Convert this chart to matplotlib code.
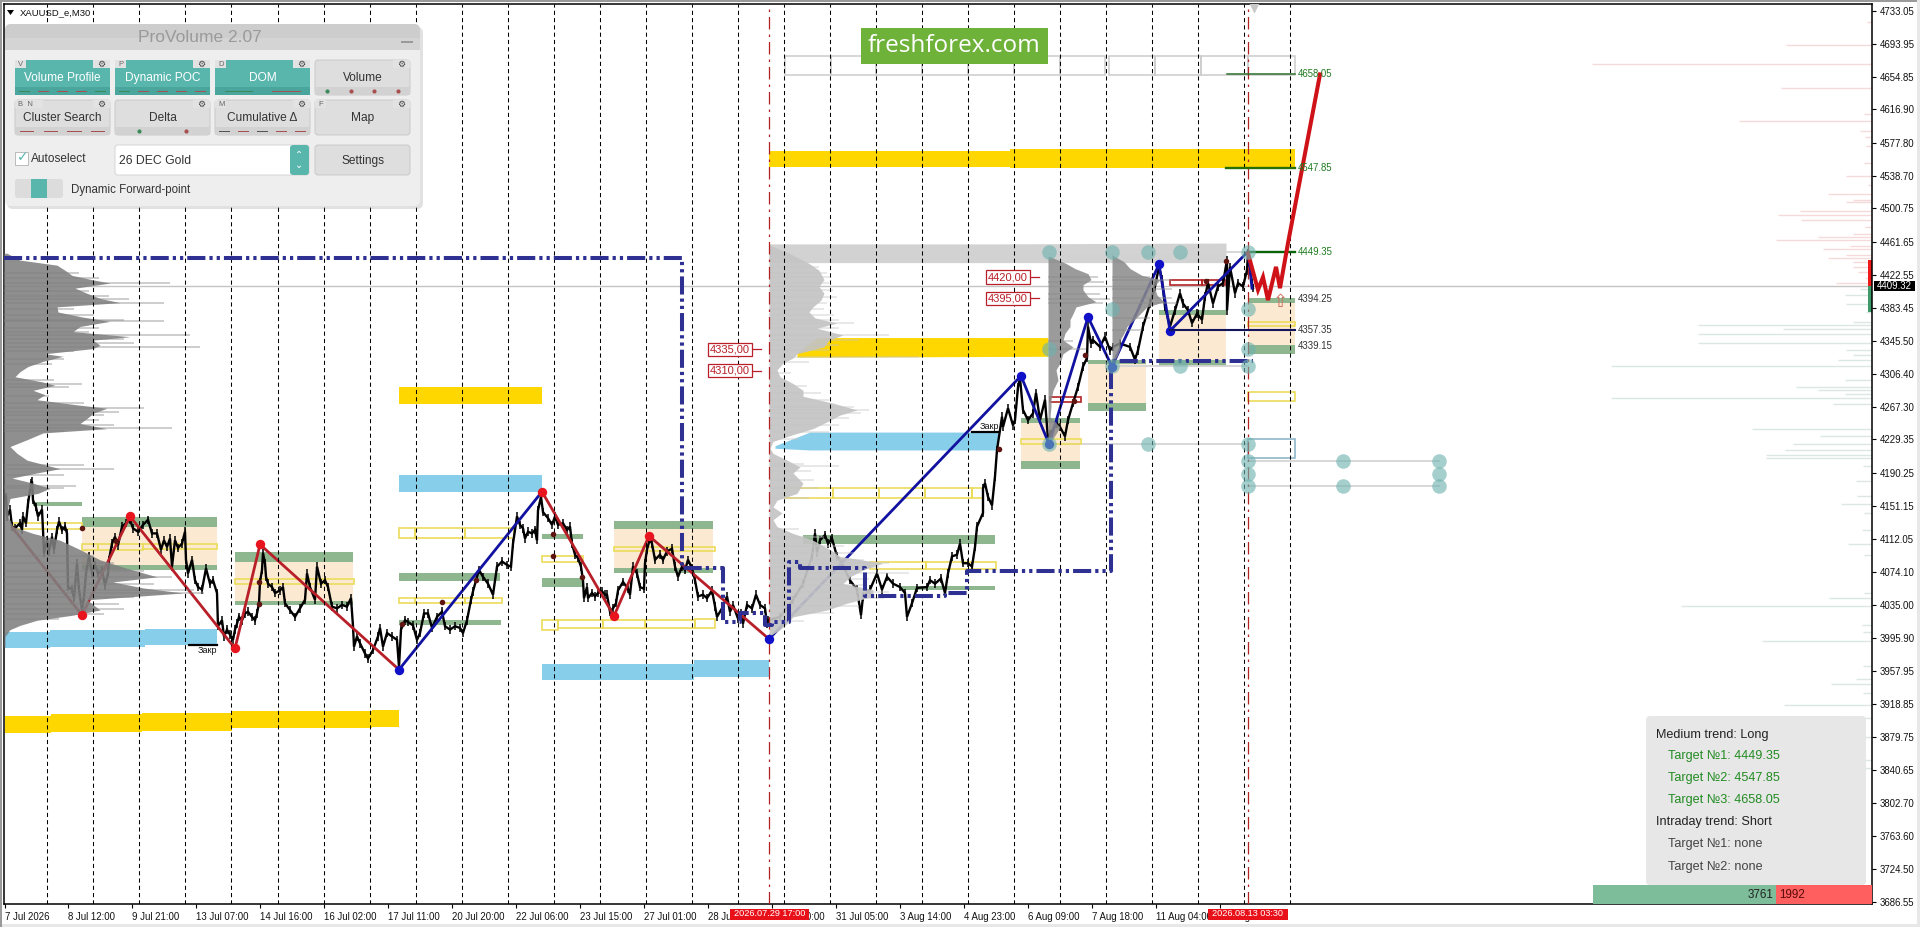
import matplotlib
matplotlib.use("Agg")
import matplotlib.pyplot as plt
from matplotlib.patches import Rectangle, FancyBboxPatch, Polygon

plt.rcParams['font.family'] = ['Liberation Sans', 'DejaVu Sans']

W, H = 1920, 927
# ---------- axis ----------
y_tick_values = [4733.05,4693.95,4654.85,4616.90,4577.80,4538.70,4500.75,4461.65,4422.55,4383.45,4345.50,4306.40,4267.30,4229.35,
                 4190.25,4151.15,4112.05,4074.10,4035.00,3995.90,3957.95,3918.85,3879.75,3840.65,3802.70,3763.60,3724.50,3686.55]
x_tick_pos = [5,68,132,196,260,324,388,452,516,580,644,708,772,836,900,964,1028,1092,1156,1220]
x_tick_labels = ['7 Jul 2026','8 Jul 12:00','9 Jul 21:00','13 Jul 07:00','14 Jul 16:00','16 Jul 02:00','17 Jul 11:00','20 Jul 20:00',
                 '22 Jul 06:00','23 Jul 15:00','27 Jul 01:00','28 Jul 11:00','29 Jul 20:00','31 Jul 05:00','3 Aug 14:00','4 Aug 23:00',
                 '6 Aug 09:00','7 Aug 18:00','11 Aug 04:00','12 Aug 13:00']
day_seps = [47.4+46.02*k for k in range(28)]
last_price = 4409.32

# ---------- price ----------
price_x = [6,7,10,12,15,20,22,23,26,28,31,32,33,36,38,42,43,44,47,49,52,54,57,59,62,65,67,68,72,74,77,79,82,84,86,89,92,95,98,102,105,108,109,112,115,118,122,126,130,133,138,143,148,152,157,161,164,167,170,172,175,178,182,185,186,188,192,195,198,202,206,210,213,217,218,222,224,227,230,233,235,237,239,
           242,245,248,252,255,257,259,260,262,263,265,266,268,272,275,280,283,285,290,295,300,305,307,310,315,317,321,325,328,332,337,342,347,351,353,354,357,360,365,368,373,378,380,383,387,392,397,399,401,405,408,413,417,420,424,428,432,437,442,445,450,455,460,463,467,471,473,477,479,483,488,493,497,502,507,511,513,517,520,
           523,525,528,532,535,537,538,541,543,548,552,555,558,563,567,570,572,575,578,581,583,584,587,588,592,595,598,602,605,607,610,613,616,618,623,628,630,633,637,640,644,645,647,650,652,655,660,663,667,672,675,678,682,685,688,692,695,698,703,707,712,715,717,722,727,730,733,738,741,743,747,752,756,760,765,767,768,
           780,793,803,812,815,817,820,825,828,832,837,842,850,857,861,863,870,877,882,887,893,900,905,907,912,917,927,930,935,941,945,948,952,957,960,963,968,972,975,977,983,983,985,988,992,995,997,1002,1003,1008,1013,1015,1018,1020,1023,1028,1033,1036,1040,1045,1048,
           1050,1057,1060,1065,1068,1073,1078,1083,1087,1088,1091,1093,1100,1105,1110,1113,1120,1130,1135,1138,1143,1150,1155,1159,1162,1165,1170,1175,1180,1183,1188,1192,1197,1202,1205,1208,1213,1218,1223,1227,1227,1230,1235,1238,1243,1247,1248,1252,1253]
price_y = [4162,4139,4147,4127,4125,4131,4123,4139,4131,4154,4178,4180,4158,4150,4139,4147,4123,4096,4111,4098,4115,4100,4123,4133,4123,4127,4119,4056,4053,4043,4084,4053,4029,4045,4072,4092,4072,4082,4072,4076,4058,4072,4088,4107,4115,4105,4127,4131,4135,4125,4121,4129,4135,4119,4119,4100,4111,4103,4113,4080,4111,4102,4107,4121,4088,4072,4088,4064,4056,4053,4078,4060,4064,4049,4010,4017,3998,4006,4000,3994,4006,4013,4021,
           4017,4025,4027,4021,4017,4025,4037,4062,4076,4096,4084,4068,4060,4056,4049,4052,4056,4037,4029,4021,4031,4041,4072,4056,4041,4080,4060,4064,4056,4033,4031,4035,4033,4043,4010,3986,3998,3990,3978,3972,3982,3998,4008,3986,4002,3998,3994,3962,4006,4017,4015,4011,3994,4002,4025,4025,4008,4021,4027,4010,4006,4010,4008,4002,4017,4041,4051,4068,4076,4068,4060,4047,4080,4086,4082,4080,4107,4139,4129,
           4125,4113,4121,4119,4123,4111,4146,4162,4144,4137,4129,4139,4129,4131,4123,4127,4107,4094,4090,4080,4064,4043,4056,4043,4049,4045,4049,4051,4047,4047,4027,4031,4037,4052,4062,4054,4047,4080,4072,4056,4054,4084,4100,4113,4107,4088,4094,4088,4098,4101,4080,4068,4080,4076,4088,4078,4064,4045,4047,4043,4052,4033,4021,4031,4045,4027,4035,4019,4025,4013,4035,4031,4047,4035,4031,4013,4017,
           4021,4041,4060,4092,4119,4096,4111,4117,4107,4113,4092,4084,4064,4053,4023,4045,4053,4072,4053,4068,4060,4056,4049,4021,4037,4055,4056,4064,4060,4066,4049,4072,4092,4094,4107,4084,4084,4080,4103,4127,4143,4172,4178,4162,4152,4186,4217,4256,4244,4266,4246,4252,4291,4301,4264,4252,4260,4284,4252,4276,4229,
           4236,4248,4244,4233,4252,4272,4291,4315,4325,4362,4342,4346,4338,4350,4334,4338,4342,4338,4323,4334,4362,4389,4409,4432,4417,4385,4362,4381,4401,4389,4381,4366,4377,4370,4397,4413,4389,4409,4413,4440,4381,4432,4401,4413,4409,4428,4448,4413,4407]

# ---------- zigzag waves ----------
red_wave_x = [13,82,130,235,260,399]
red_wave_y = [4125,4023,4139,3984,4106,3959]
blue_wave1_x = [399,542]
blue_wave1_y = [3959,4168]
red_wave2_x = [542,614,649,769]
red_wave2_y = [4168,4022,4116,3995]
blue_wave2_x = [769,1021,1049,1088,1112,1159,1170,1248,1252]
blue_wave2_y = [3995,4304,4224,4373,4315,4435,4357,4450,4407]
red_pivots_x = [82,130,235,260,542,614,649]
red_pivots_y = [4023,4139,3984,4106,4168,4022,4116]
blue_pivots_x = [399,769,1021,1049,1088,1112,1159,1170]
blue_pivots_y = [3959,3995,4304,4224,4373,4315,4435,4357]
forecast_x = [1248,1258,1263,1268,1276,1280,1288,1320]
forecast_y = [4448,4405,4420,4393,4432,4407,4460,4658]
poc_x = [4,682,682,723,723,740,740,765,765,772,772,789,789,800,800,865,865,945,945,967,967,1111,1111,1253]
poc_y = [4442,4442,4078,4078,4015,4015,4026,4026,4011,4011,4015,4015,4086,4086,4078,4078,4045,4045,4049,4049,4075,4075,4322,4322]
dark_dots_x = [999,1085,1074,259,259,442,402,476,553,553,582,1226,1206,82,116]
dark_dots_y = [4218,4328,4275,4062,4036,4039,4013,4064,4118,4092,4068,4439,4415,4125,4110]

# ---------- volume profiles: price levels, widths ----------
vp1_p = [4448,4440,4434,4428,4422,4417,4413,4407,4401,4395,4390,4385,4379,4373,4368,4362,4356,4350,4346,4340,4336,4330,4327,4321,4315,4309,4303,4297,4293,4287,4282,4276,4270,4266,4260,4254,4248,4242,4237,4229,4221,4213,4205,4195,4190,4184,4178,4172,4166,4160,4150,4139,4127,4119,4111,4100,4088,4078,4068,4062,4055,4049,4041,4029,4023,4017,4011,4006,3998,3986]
vp1_v = [3,16,53,61,68,88,106,71,83,96,116,53,54,79,106,76,69,126,89,96,89,41,59,39,24,16,11,38,51,29,41,33,73,103,89,83,76,103,39,23,6,13,23,56,33,8,29,46,34,6,4,4,9,29,56,76,96,123,153,109,139,179,83,96,69,33,16,6,1,1]
vp1_spike_p = [4425,4419,4413,4404,4398,4394,4390,4382,4376,4370,4368,4360,4355,4352,4347,4343,4338,4333,4324,4318,4299,4294,4291,4280,4272,4266,4262,4258,4252,4246,4243,4239,4199,4195,4188,4175,4172,4092,4084,4075,4068,4060,4053,4049,4044,4036,4030,4024,4018]
vp1_spike_v = [75,95,166,85,105,125,160,70,90,120,160,95,85,186,120,130,196,70,60,48,50,78,65,45,80,140,115,100,95,110,168,60,80,110,60,72,60,90,110,140,168,150,190,200,130,115,120,100,55]
vp2_p = [4458,4448,4436,4428,4417,4409,4401,4393,4385,4379,4372,4366,4360,4352,4346,4338,4330,4325,4319,4311,4303,4295,4287,4280,4272,4264,4258,4250,4242,4235,4227,4219,4213,4205,4197,4190,4178,4166,4158,4150,4143,4135,4127,4119,4111,4100,4092,4084,4076,4068,4060,4053,4045,4037,4029,4021,4013,4006,3998]
vp2_v = [0,20,40,50,55,50,55,52,44,40,46,68,48,74,60,55,28,24,14,8,11,24,34,34,64,88,71,58,44,24,4,1,4,18,31,24,34,28,8,4,13,4,8,24,44,61,71,114,94,81,74,104,104,78,58,24,18,11,0]
vp2_spike_p = [4432,4425,4420,4413,4405,4397,4390,4382,4375,4370,4366,4360,4352,4346,4340,4334,4326,4320,4307,4292,4284,4276,4268,4264,4260,4254,4246,4238,4230,4201,4198,4192,4182,4172,4161,4124,4115,4104,4096,4088,4084,4080,4073,4066,4058,4050,4043,4034,4026,4016]
vp2_spike_v = [50,58,62,60,64,68,58,55,65,70,85,70,120,90,70,60,150,40,22,38,52,60,85,100,92,80,70,60,30,35,70,42,45,50,40,30,55,75,85,95,120,110,140,100,95,120,115,90,65,35]
vp3_p = [4444,4436,4430,4424,4417,4411,4405,4397,4391,4385,4377,4370,4362,4354,4346,4338,4330,4319,4311,4299,4287,4276,4268,4256,4244,4236,4225]
vp3_v = [2,18,27,40,43,35,35,40,48,28,25,22,22,17,15,25,15,12,8,10,5,3,3,2,12,8,2]
vp3_spike_p = [4420,4414,4400,4394,4389,4345,4335]
vp3_spike_v = [50,56,52,62,55,25,38]
vp4_p = [4446,4438,4430,4422,4417,4409,4399,4391,4385,4373,4362,4354,4346,4336,4327,4317]
vp4_v = [0,12,18,30,48,42,45,52,35,25,15,12,8,8,5,0]
vp4_spike_p = [4420,4416,4406,4396,4390,4372,4358]
vp4_spike_v = [38,60,60,60,65,38,30]

# ---------- zones: (start, end, low, high) ----------
gold_bands = [(5,51,3885,3905),(51,142,3886,3907),(142,232,3887,3908),(232,325,3890,3910),(325,372,3891,3911),(372,399,3892,3912),
              (769,1010,4549,4568),(1010,1295,4548,4570),(399,542,4271,4291)]
gold_taper_x = [797,817,1048]
gold_taper_hi = [4331,4349,4349]
gold_taper_lo = [4326,4326,4327]
blue_bands = [(5,50,3985,4003),(50,145,3986,4005),(145,217,3988,4007),(399,542,4168,4188),(542,694,3947,3966),(694,769,3950,3970)]
blue_taper_x = [775,810,998]
blue_taper_hi = [4222,4238,4238]
blue_taper_lo = [4219,4217,4217]
green_bands = [(33,82,4151,4156),(82,217,4126,4138),(82,217,4076,4082),(235,353,4086,4097),(235,353,4035,4040),(399,500,4063,4073),(399,501,4011,4017),
               (542,583,4113,4118),(542,583,4056,4067),(614,713,4124,4134),(614,713,4073,4078),(803,995,4107,4117),(900,995,4052,4057),
               (1021,1080,4249,4254),(1021,1080,4195,4204),(1088,1146,4318,4323),(1088,1146,4263,4272),(1159,1226,4376,4381),(1159,1226,4316,4323),
               (1248,1295,4390,4395),(1248,1295,4330,4340)]
beige_bands = [(82,217,4082,4126),(235,353,4040,4086),(614,713,4078,4124),(1021,1080,4204,4249),(1088,1146,4272,4318),(1159,1226,4323,4376),(1248,1295,4340,4390)]
grey_band_x = [769,1000,1226]
grey_band_lo = [4437,4437,4437]
grey_band_hi = [4459,4459,4460]
yellow_boxes = [(13,82,4124,4131),(82,98,4100,4107),(98,143,4100,4107),(143,217,4101,4107),(235,354,4060,4066),(399,415,4114,4125),(415,465,4114,4125),(465,514,4114,4125),
                (399,415,4037,4043),(415,465,4037,4043),(465,502,4037,4043),(542,583,4086,4092),(542,558,4006,4017),(558,603,4008,4017),(603,645,4008,4017),(645,695,4008,4017),(695,715,4008,4019),
                (614,715,4098,4103),(785,833,4161,4172),(833,879,4161,4172),(879,925,4161,4172),(925,972,4161,4172),(972,983,4161,4172),
                (870,926,4077,4085),(926,996,4077,4085),(1021,1081,4224,4230),(1248,1295,4362,4367),(1248,1295,4274,4285)]
red_boxes = [(1050,1081,4273,4279),(1170,1202,4411,4417),(1202,1225,4411,4417)]
paleblue_boxes = [(1248,1295,4207,4230)]
grey_boxes = [(785,831),(831,876),(876,922),(922,968),(968,1014),(1014,1060),(1060,1105),(1109,1155),(1155,1201),(1201,1248),(1248,1295)]
grey_box_low, grey_box_high = 4657, 4680

# ---------- levels ----------
guide_lines = [(1049,1248,4450),(1112,1248,4316),(1049,1248,4224),(1248,1439,4204),(1248,1439,4175)]
circles_x = [1049,1112,1148,1180,1248,1112,1248,1049,1248,1112,1180,1248,1049,1148,1248,1248,1343,1439,1248,1439,1248,1343,1439]
circles_y = [4450,4450,4450,4450,4450,4382,4382,4336,4336,4316,4316,4316,4224,4224,4224,4204,4204,4204,4189,4189,4175,4175,4175]
target_labels = [(4658.05,'4658.05','#1f7a1f'),(4547.85,'4547.85','#1f7a1f'),(4449.35,'4449.35','#1f7a1f'),(4394.25,'4394.25','#333333'),(4357.35,'4357.35','#333333'),(4339.15,'4339.15','#333333')]
order_labels = [(1008,4420,'4420,00',1039),(1008,4395,'4395,00',1039),(730,4335,'4335,00',761),(730,4310,'4310,00',761)]

# ---------- order book depth ----------
dom_red_p = [4719,4693,4670,4642,4612,4603,4592,4584,4574,4554,4539,4528,4518,4511,4508,4498,4493,4487,4479,4471,4467,4463,4457,4453,4446,4442,4438,4432,4426,4419,4413]
dom_red_v = [5,86,280,91,8,133,12,7,6,8,26,4,44,19,26,72,94,71,7,19,54,96,22,49,26,44,19,19,14,7,36]
dom_grn_p = [4406,4399,4388,4379,4367,4364,4359,4353,4343,4334,4329,4323,4316,4299,4291,4287,4283,4278,4271,4242,4233,4224,4217,4211,4207,4198,4181,4163,4154,4143,4123,4107,4094,4049,4043,4034,4012,4003,3993,3963,3948,3942,3931,3917,3902,3880,3853,3843,3693]
dom_grn_v = [12,27,26,6,19,174,89,174,174,26,19,34,261,27,76,54,27,261,39,120,52,79,87,106,106,9,16,15,31,8,10,24,8,8,43,191,10,9,110,9,16,41,9,88,32,21,17,173,176]

# ---------- info panel ----------
info_lines = [('Medium trend: Long','#222222',0),('Target №1: 4449.35','#228b22',1),('Target №2: 4547.85','#228b22',1),('Target №3: 4658.05','#228b22',1),
              ('Intraday trend: Short','#222222',0),('Target №1: none','#444444',1),('Target №2: none','#444444',1)]
buy_total, sell_total = 3761, 1992

# ======================== draw ========================
fig = plt.figure(figsize=(W/100, H/100), dpi=100, facecolor='white')
ax = fig.add_axes([4/W, 1-904/H, 1868/W, 900/H])
ax.set_xlim(4, 1872)
ax.set_ylim(3683.8, 4740.7)
ax.set_facecolor('white')
for s in ax.spines.values():
    s.set_color('black'); s.set_linewidth(1.1)
ax.yaxis.tick_right()
ax.set_yticks(y_tick_values)
ax.set_yticklabels([f'{v:.2f}' for v in y_tick_values], fontsize=6.9, color='#111111')
ax.set_xticks(x_tick_pos)
ax.set_xticklabels(x_tick_labels, fontsize=6.9, ha='left', color='#111111')
ax.tick_params(axis='both', length=3, width=0.8, pad=2.5)
ax.tick_params(axis='x', pad=3)

def spans(items, color, z=1):
    for x0, x1, lo, hi in items:
        ax.add_patch(Rectangle((x0, lo), x1-x0, hi-lo, fc=color, ec='none', zorder=z))
def boxes(items, color, lw=1.2):
    for x0, x1, lo, hi in items:
        ax.add_patch(Rectangle((x0, lo), x1-x0, hi-lo, fc='none', ec=color, lw=lw, zorder=2.2))

ax.fill_between(grey_band_x, grey_band_lo, grey_band_hi, color='#d2d2d2', lw=0, zorder=1)
spans(beige_bands, '#fce9d2', 1)
spans(gold_bands, '#ffd700', 1.1)
ax.fill_between(gold_taper_x, gold_taper_lo, gold_taper_hi, color='#ffd700', lw=0, zorder=1.1)
spans(blue_bands, '#87ceeb', 1.1)
ax.fill_between(blue_taper_x, blue_taper_lo, blue_taper_hi, color='#87ceeb', lw=0, zorder=1.1)
spans(green_bands, '#8fb78f', 1.2)
boxes(yellow_boxes, '#ecdc5a')
boxes(red_boxes, '#b22222')
boxes(paleblue_boxes, '#8fb8c8')
for x0, x1 in grey_boxes:
    ax.add_patch(Rectangle((x0, grey_box_low), x1-x0, grey_box_high-grey_box_low, fc='none', ec='#cccccc', lw=1.1, zorder=2.2))

ax.axhline(last_price, color='#c4c4c4', lw=1.0, zorder=1.6)
for x0, x1, p in guide_lines:
    ax.plot([x0, x1], [p, p], color='#d4d4d4', lw=1.3, zorder=1.7)

# bars' range around each reading thickens the line the way the M30 bars do
ax.vlines(price_x, [p-5 for p in price_y], [p+5 for p in price_y], color='black', lw=1.1, zorder=3)
ax.plot(price_x, price_y, color='black', lw=1.7, zorder=3, solid_joinstyle='miter')

wave_col = '#b81f28'
for xs, ys, c in [(red_wave_x, red_wave_y, wave_col), (red_wave2_x, red_wave2_y, wave_col),
                  (blue_wave1_x, blue_wave1_y, '#1212a0'), (blue_wave2_x, blue_wave2_y, '#1212a0')]:
    ax.plot(xs, ys, color=c, lw=2.0, zorder=3.2)

# profiles
def profile(levels, vols, base, col, alpha, sp, spv):
    ax.fill_betweenx(levels, base, [base+v for v in vols], color=col, alpha=alpha, lw=0, zorder=3.5)
    ax.hlines(sp, base, [base+v for v in spv], color=col, alpha=0.5, lw=1.1, zorder=3.4)
profile(vp1_p, vp1_v, 4, '#808080', 0.88, vp1_spike_p, vp1_spike_v)
profile(vp2_p, vp2_v, 769, '#c4c4c4', 0.92, vp2_spike_p, vp2_spike_v)
profile(vp3_p, vp3_v, 1048, '#8a8a8a', 0.85, vp3_spike_p, vp3_spike_v)
profile(vp4_p, vp4_v, 1112, '#8a8a8a', 0.85, vp4_spike_p, vp4_spike_v)

ax.vlines(day_seps, 3683.8, 4740.7, color='black', lw=0.75, linestyles=(0, (4, 3)), zorder=4)
for xv in (769, 1248):
    ax.axvline(xv, color='#b22222', lw=0.9, linestyle=(0, (10, 4, 2, 4)), zorder=4)

ax.plot(poc_x, poc_y, color='#2e3192', lw=2.9, linestyle=(0, (4.5, 1, 0.8, 1, 0.8, 1)), dash_capstyle='butt', zorder=5)
ax.scatter(dark_dots_x, dark_dots_y, s=16, color='#5e1410', zorder=4.5, lw=0)
ax.scatter(red_pivots_x, red_pivots_y, s=46, color='#e8141e', zorder=5.2, lw=0)
ax.scatter(blue_pivots_x, blue_pivots_y, s=46, color='#1010c8', zorder=5.2, lw=0)
ax.plot(forecast_x, forecast_y, color='#cf1218', lw=2.9, zorder=5.5, solid_joinstyle='miter')
ax.scatter(circles_x, circles_y, s=110, color='#6fb2ae', alpha=0.62, lw=0, zorder=5.6)
ax.scatter([1254], [4736], marker='v', s=55, color='#c8c8c8', lw=0, zorder=5, clip_on=True)
ax.text(1280, 4391, '⇧', family='DejaVu Sans', fontsize=13, color='#cc6a5a', ha='center', va='center', zorder=6)

# target lines
ax.plot([1248, 1295], [4449.35]*2, color='#0a640a', lw=1.7, zorder=5.4)
ax.plot([1226, 1295], [4547.85]*2, color='#2a6e06', lw=1.7, zorder=5.4)
ax.plot([1227, 1295], [4658.05]*2, color='#2a6e2a', lw=1.1, zorder=5.4)
ax.plot([1170, 1295], [4357.35]*2, color='#14145a', lw=1.5, zorder=5.4)
for p, s, c in target_labels:
    ax.text(1298, p, s, fontsize=6.9, color=c, ha='left', va='center', zorder=6)
for x, p, s, x2 in order_labels:
    ax.plot([x+21, x2], [p, p], color='#b81f28', lw=0.9, zorder=5)
    ax.text(x, p, s, fontsize=8, color='#b81f28', ha='center', va='center', zorder=6,
            bbox=dict(boxstyle='square,pad=0.15', fc='white', ec='#b81f28', lw=0.9))
ax.plot([189, 217], [3988, 3988], color='black', lw=1.6, zorder=5)
ax.text(207, 3981, 'Закр', fontsize=6.5, ha='center', va='center', color='#111111', zorder=6)
ax.plot([972, 998], [4238, 4238], color='black', lw=1.6, zorder=5)
ax.text(989, 4244, 'Закр', fontsize=6.5, ha='center', va='center', color='#111111', zorder=6)

# order book
ax.hlines(dom_red_p, [1872-v for v in dom_red_v], 1872, color='#eebcbc', alpha=0.55, lw=1.0, zorder=1.5)
ax.hlines(dom_grn_p, [1872-v for v in dom_grn_v], 1872, color='#c4d8d2', alpha=0.6, lw=1.0, zorder=1.5)
ax.fill_betweenx([4410, 4440], 1868, 1872, color='#f01818', lw=0, zorder=1.6)
ax.fill_betweenx([4379, 4409], 1868, 1872, color='#3c9a68', lw=0, zorder=1.6)

# ---------- overlay in screen units ----------
ui = fig.add_axes([0, 0, 1, 1], facecolor='none', zorder=10)
ui.set_xlim(0, W); ui.set_ylim(H, 0); ui.axis('off')

def rbox(x0, y0, x1, y1, fc, r=4, ec='none', lw=0, z=1, alpha=None):
    ui.add_patch(FancyBboxPatch((x0, y0), x1-x0, y1-y0, boxstyle=f'round,pad=0,rounding_size={r}', fc=fc, ec=ec, lw=lw, zorder=z, alpha=alpha))
def rect(x0, y0, x1, y1, fc, z=2, ec='none', lw=0, alpha=None):
    ui.add_patch(Rectangle((x0, y0), x1-x0, y1-y0, fc=fc, ec=ec, lw=lw, zorder=z, alpha=alpha))
def txt(x, y, s, size=8, color='#222222', ha='left', **k):
    ui.text(x, y, s, fontsize=size, color=color, ha=ha, va='center', zorder=6, **k)

# frame edge
rect(0, 0, W, 2, '#9a9a9a')
rect(0, 924, W, 927, '#e8e8e8')
rect(1917, 0, W, H, '#e8e8e8')
rect(0, 0, 2, H, '#9a9a9a')

# title
ui.add_patch(Polygon([(7, 10), (14, 10), (10.5, 15)], fc='black', zorder=6))
txt(19.5, 12.5, 'XAUUSD_e,M30', 6.8, '#111111')

# date highlights and last price
rect(730, 909, 809, 919.5, '#e8111a', z=5)
txt(769.5, 914, '2026.07.29 17:00', 6.6, 'white', ha='center')
rect(1208, 909, 1288, 919.5, '#e8111a', z=5)
txt(1248, 914, '2026.08.13 03:30', 6.6, 'white', ha='center')
rect(1874, 281, 1915, 291, 'black', z=5)
txt(1894.5, 286, f'{last_price:.2f}', 6.9, 'white', ha='center')

# brand
rect(861, 28, 1048, 64, '#6fb23a', z=5)
txt(954.5, 45.5, 'freshforex.com', 17.5, 'white', ha='center', family='Open Sans')

# main panel
rbox(7, 27, 423, 209, '#888888', r=6, z=1, alpha=0.25)
rbox(5, 24, 420, 206, '#eeeeee', r=6, z=1.5)
rbox(5, 24, 420, 50, '#cdcdcd', r=6, z=2)
rect(5, 38, 420, 50, '#d4d4d4', z=2.1)
txt(200, 37.5, 'ProVolume 2.07', 12.5, '#9a9a9a', ha='center')
rect(401, 41, 413, 43, '#9a9a9a', z=3)

teal = '#58b6ad'
grey = '#dedede'
greenm, redm = '#3a8a5a', '#a85050'
buttons = [
    (15, 60, 'Volume Profile', True, 'V', 'ggggg', 'grrrg'),
    (115, 60, 'Dynamic POC', True, 'P', 'ggggg', 'grrrr'),
    (215, 60, 'DOM', True, 'D', 'gg', 'gr'),
    (315, 60, 'Volume', False, '', 'oooo', 'grrr'),
    (15, 100, 'Cluster Search', False, 'B  N', 'gggg', 'rrrr'),
    (115, 100, 'Delta', False, '', 'oo', 'gr'),
    (215, 100, 'Cumulative Δ', False, 'M', 'ggggg', 'krkrr'),
    (315, 100, 'Map', False, 'F', '', ''),
]
for bx, by, label, on, key, kinds, cols in buttons:
    rbox(bx, by, bx+95, by+35, teal if on else grey, r=3, z=2.5, ec='#c4c4c4' if not on else 'none', lw=0.6)
    rect(bx+78, by, bx+95, by+8, '#e2e2e2', z=3)
    txt(bx+86.5, by+4.5, '⚙', 6.5, '#444444', ha='center', family='DejaVu Sans')
    if key:
        rect(bx, by, bx+6+6.5*len(key)/1.2, by+8, '#e2e2e2', z=3)
        txt(bx+3, by+4.5, key, 5.5, '#666666')
    txt(bx+47.5, by+18, label, 8.6, 'white' if on else '#333333', ha='center')
    n = len(kinds)
    if n:
        rect(bx, by+27, bx+95, by+35, '#4aa69d' if on else '#d2d2d2', z=3)
        for i in range(n):
            cx = bx + 95*(i+0.5)/n
            c = {'g': greenm, 'r': redm, 'k': '#555555'}[cols[i]]
            if kinds[i] == 'o':
                ui.scatter([cx], [by+31], s=9, color=c, lw=0, zorder=4)
            else:
                rect(cx-0.3*95/n, by+30.5, cx+0.3*95/n, by+31.5, c, z=4)

rect(15, 152, 28, 165, 'white', z=3, ec='#bbbbbb', lw=0.7)
txt(17, 157, '✓', 10, teal, family='DejaVu Sans')
txt(31, 159, 'Autoselect', 8.6, '#333333')
rbox(115, 145, 309, 175, 'white', r=3, z=3, ec='#d0d0d0', lw=0.6)
rbox(290, 145, 309, 175, teal, r=3, z=3.2)
txt(299.5, 155, '⌃', 7, 'white', ha='center', family='DejaVu Sans')
txt(299.5, 165, '⌄', 7, 'white', ha='center', family='DejaVu Sans')
txt(119, 160.5, '26 DEC Gold', 8.8, '#333333')
rbox(315, 145, 410, 175, grey, r=3, z=3, ec='#c4c4c4', lw=0.6)
txt(362.5, 161, 'Settings', 8.6, '#333333', ha='center')
rbox(15, 179, 63, 198, '#dcdcdc', r=3, z=3)
rect(31, 179, 47, 198, teal, z=3.2)
txt(71, 190, 'Dynamic Forward-point', 8.3, '#333333')

# info panel
rbox(1646, 716, 1866, 885, '#e6e6e6', r=4, z=2, alpha=0.94)
yy = [734.7, 756.5, 778.5, 800.5, 822.5, 844.5, 866.7]
for (s, c, ind), y in zip(info_lines, yy):
    txt(1656+12*ind, y, s, 9.1, c)
rect(1593, 885, 1776, 904, '#7dbd9a', z=2)
rect(1776, 885, 1872, 904, '#ff5f5f', z=2)
txt(1773, 895, str(buy_total), 8.4, '#222222', ha='right')
txt(1779, 895, str(sell_total), 8.4, '#5a0a0a')

fig.savefig('out.png', dpi=100)
